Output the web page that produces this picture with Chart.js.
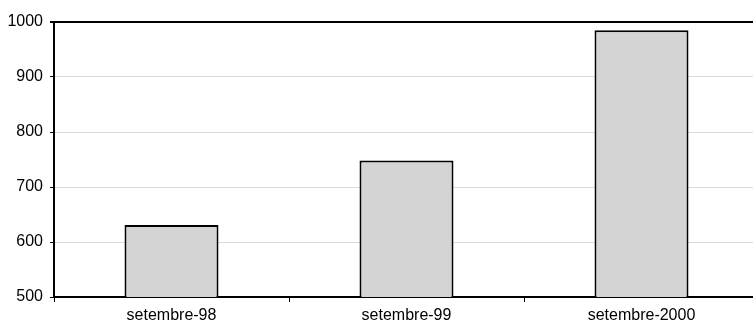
<!DOCTYPE html>
<html>
<head>
<meta charset="utf-8">
<script src="https://cdn.jsdelivr.net/npm/chart.js@4"></script>
<style>
  html, body { margin: 0; padding: 0; background: #fff; overflow: hidden; }
  #wrap { width: 753px; height: 325px; overflow: hidden; }
  #box { width: 759px; height: 325px; }
</style>
</head>
<body>
<div id="wrap"><div id="box"><canvas id="chartSetembre"></canvas></div></div>
<script>
const categories = ["setembre-98", "setembre-99", "setembre-2000"];
const values = [631, 748, 985];
const yMin = 500;
const yMax = 1000;
const yStep = 100;

window.addEventListener('DOMContentLoaded', () => {
    Chart.defaults.font.family = "'Liberation Sans', Arial, sans-serif";
    Chart.defaults.font.size = 16;
    Chart.defaults.color = "#000";

    const chartSetembre = new Chart("chartSetembre", {
        type: "bar",
        data: {
            labels: categories,
            datasets: [{
                data: values,
                backgroundColor: "#d4d4d4",
                borderColor: "#000",
                borderWidth: 2,
                borderSkipped: false,
                barPercentage: 0.4,
                categoryPercentage: 1
            }]
        },
        options: {
            animation: false,
            responsive: true,
            maintainAspectRatio: false,
            layout: { padding: { top: 22, right: 0, left: 0, bottom: 0 } },
            plugins: {
                legend: { display: false },
                tooltip: { enabled: false }
            },
            scales: {
                x: {
                    grid: {
                        offset: true,
                        drawOnChartArea: false,
                        drawTicks: true,
                        tickLength: 5,
                        tickColor: "#000"
                    },
                    border: { color: "#000", width: 2 },
                    ticks: { padding: 4, maxRotation: 0 },
                    afterFit: (scale) => { scale.height = 28; }
                },
                y: {
                    min: yMin,
                    max: yMax,
                    grid: {
                        color: (ctx) => ctx.tick && ctx.tick.value === yMax ? "#000" : "#d9d9d9",
                        lineWidth: (ctx) => ctx.tick && ctx.tick.value === yMax ? 2 : 1,
                        tickLength: 4,
                        tickColor: "#000"
                    },
                    border: { color: "#000", width: 2 },
                    ticks: {
                        stepSize: yStep,
                        padding: 7,
                        callback: (v) => String(v)
                    },
                    afterFit: (scale) => { scale.width = 54; }
                }
            }
        }
    });
});
</script>
</body>
</html>
